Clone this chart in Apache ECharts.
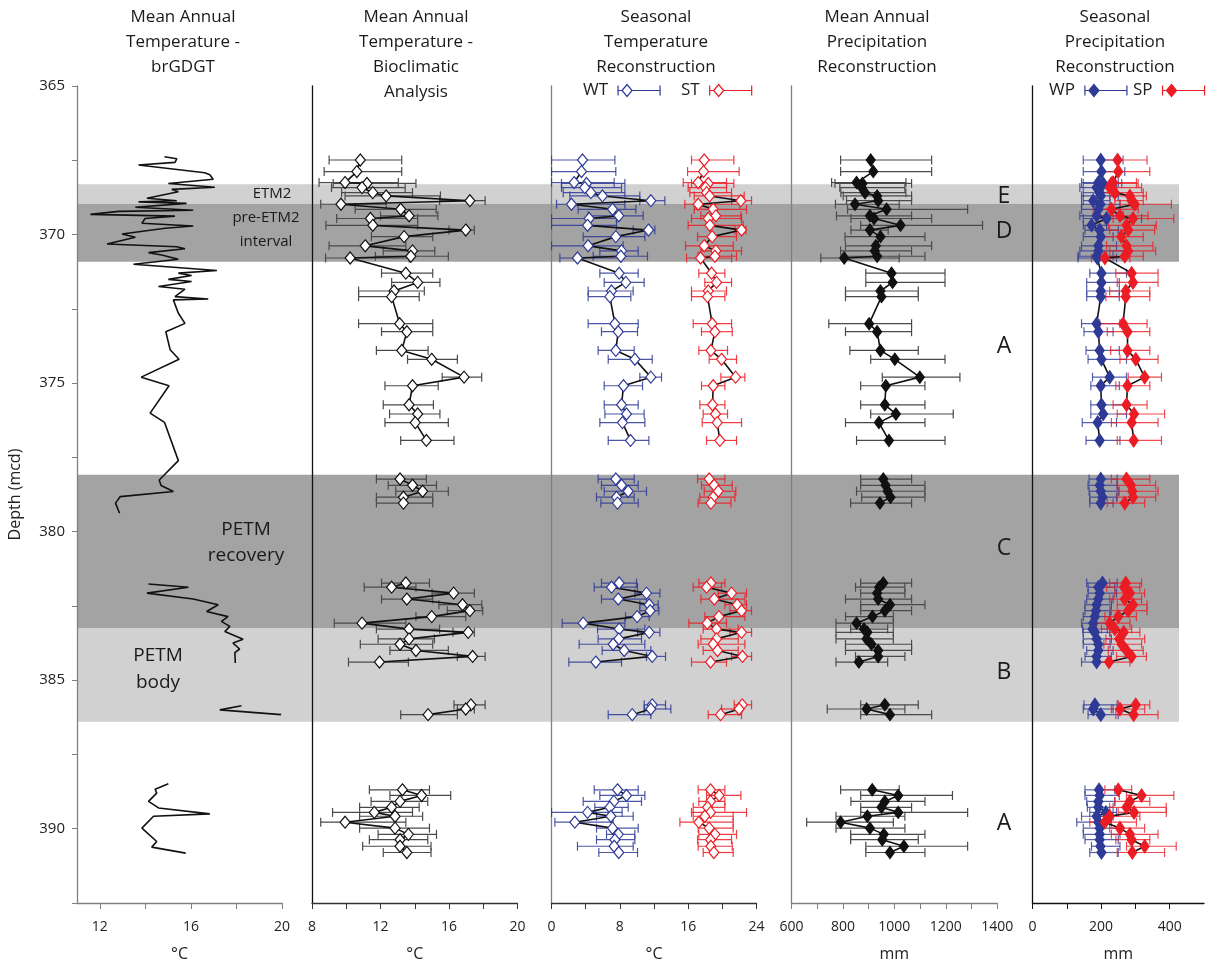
<!DOCTYPE html>
<html><head><meta charset="utf-8">
<script src="https://cdn.jsdelivr.net/npm/echarts@6/dist/echarts.min.js"></script>
<style>html,body{margin:0;padding:0;background:#fff}#c{width:1213px;height:967px}</style>
</head><body><div id="c"></div>
<script>
// ---------------- DATA ----------------
const depthTicks = [365, 367.5, 370, 372.5, 375, 377.5, 380, 382.5, 385, 387.5, 390, 392.5];
const depthLabels = [365, 370, 375, 380, 385, 390];
const ticks1 = [12, 14, 16, 18, 20], labels1 = [12, 16, 20];
const ticks2 = [8, 10, 12, 14, 16, 18, 20], labels2 = [8, 12, 16, 20];
const ticks3 = [0, 4, 8, 12, 16, 20, 24], labels3 = [0, 8, 16, 24];
const ticks4 = [600, 700, 800, 900, 1000, 1100, 1200, 1300, 1400], labels4 = [600, 800, 1000, 1200, 1400];
const ticks5 = [0, 100, 200, 300, 400], labels5 = [0, 200, 400];

// shaded intervals (depth, mcd)
const bandTop = [368.3, 368.95, 378.05, 383.2];
const bandBottom = [368.95, 370.9, 383.2, 386.35];
const bandShade = ['light', 'dark', 'dark', 'light'];

// Panel 1: brGDGT MAT
const brDepth = [367.38,367.45,367.57,367.66,367.92,367.99,368.14,368.28,368.41,368.48,368.56,368.78,368.86,368.90,368.95,369.08,369.18,369.22,369.32,369.38,369.46,369.62,369.71,369.79,369.98,370.09,370.32,370.41,370.48,370.61,370.69,370.83,371.00,371.21,371.30,371.38,371.51,371.58,371.75,371.84,372.09,372.17,372.20,372.65,372.99,373.27,373.88,374.20,374.80,375.09,376.01,376.32,377.61,378.26,378.45,378.65,378.82,379.04,379.38,
381.76,381.87,382.07,382.27,382.46,382.69,382.86,383.02,383.19,383.36,383.62,383.75,383.95,384.07,384.42,
385.86,386.00,386.16,
388.49,388.67,388.80,389.08,389.30,389.50,389.58,389.98,390.43,390.62,390.82];
const brTemp = [14.84,15.38,15.30,13.70,16.61,16.83,16.98,15.01,17.05,15.16,15.45,14.07,15.38,13.70,15.81,13.56,16.10,12.83,11.59,15.30,13.99,13.85,16.10,14.87,12.98,13.56,12.32,15.38,15.74,14.14,14.72,15.45,13.48,17.14,15.45,16.03,15.01,16.03,14.58,15.74,15.30,16.76,15.23,15.45,15.74,14.90,15.09,15.48,13.82,15.04,14.21,14.84,15.45,14.61,14.69,15.23,12.90,12.69,12.87,
14.14,15.89,14.07,16.10,17.20,16.69,17.63,17.34,17.71,17.49,18.29,17.85,18.14,17.93,17.95,
18.22,17.27,19.96,
15.01,14.43,14.50,14.14,14.58,16.83,14.36,13.85,14.50,14.28,15.77];

// Sample depths for panels 2-5
const depth = [367.49,367.88,368.25,368.28,368.42,368.59,368.70,368.86,368.98,369.15,369.37,369.46,369.69,369.85,370.07,370.38,370.55,370.73,370.79,371.30,371.61,371.90,372.09,373.00,373.27,373.90,374.20,374.80,375.09,375.73,376.04,376.33,376.93,
378.23,378.44,378.64,378.84,379.04,
381.73,381.87,382.07,382.27,382.46,382.66,382.86,383.08,383.28,383.39,383.61,383.79,384.00,384.20,384.39,
385.83,385.97,386.16,
388.69,388.88,389.08,389.28,389.45,389.58,389.78,389.98,390.19,390.37,390.59,390.80];

// Panel 2: MAT bioclimatic analysis (°C)
const matBio = [10.82,10.62,9.93,11.21,10.92,11.55,12.33,17.22,9.69,13.18,13.67,11.41,11.55,16.98,13.38,11.11,13.87,13.77,10.23,13.48,14.17,12.79,12.65,13.12,13.54,13.24,14.99,16.88,13.87,13.67,14.17,14.03,14.68,
13.14,13.87,14.46,13.34,13.34,
13.48,12.65,16.27,13.54,16.79,17.22,14.99,10.92,13.67,17.12,13.67,13.14,14.07,17.38,11.94,
17.28,16.98,14.78,
13.28,14.40,13.14,12.65,11.64,12.85,9.93,12.85,13.63,13.14,13.14,13.54];
const matBioLo = [9.00,8.71,8.41,9.24,9.14,9.73,9.93,15.45,8.51,10.52,12.00,9.44,8.81,16.00,11.47,9.00,12.16,11.70,8.79,12.06,12.65,10.72,10.72,10.72,12.06,11.76,13.58,15.60,12.26,12.16,12.53,12.26,13.18,
11.76,12.45,12.89,11.76,11.76,
12.06,11.05,15.01,12.06,15.41,15.90,14.07,9.30,11.76,16.23,11.86,10.82,12.55,16.49,10.13,
16.29,16.49,13.18,
11.35,12.55,11.45,10.78,9.20,10.78,8.51,10.78,11.86,11.35,10.96,12.16];
const matBioHi = [13.24,13.24,13.04,14.07,13.44,13.87,15.50,18.11,12.33,15.25,15.35,14.17,14.17,17.48,15.05,13.48,15.17,15.96,13.67,15.05,15.47,14.56,14.26,15.05,15.05,14.78,16.49,17.91,15.37,15.09,15.47,15.96,16.29,
14.68,15.27,15.96,15.05,15.05,
14.86,14.07,17.48,15.05,17.91,17.97,16.98,13.48,15.45,17.48,15.15,15.05,15.96,18.11,13.63,
18.11,17.48,16.49,
14.86,16.10,14.76,14.26,13.87,14.46,13.48,14.86,15.27,14.76,14.95,14.95];

// Panel 3: seasonal temperature (°C)
const wt = [3.63,3.51,2.65,4.10,3.90,4.61,5.97,11.63,2.34,7.14,7.88,4.41,4.22,11.36,7.53,4.29,8.20,8.12,3.04,7.92,8.70,7.03,6.83,7.42,7.81,7.53,9.76,11.63,8.43,8.20,8.78,8.31,9.25,
7.53,8.20,8.98,7.61,7.73,
7.92,7.03,11.12,7.81,11.44,11.55,10.03,3.71,7.92,11.44,7.88,7.22,8.51,11.79,5.19,
11.79,11.63,9.45,
7.73,8.78,7.30,6.83,4.22,6.95,2.73,7.14,7.81,7.42,7.34,7.88];
const wtLo = [0,0,0,1.17,1.17,1.37,2.15,10.34,0.59,3.12,4.29,0,0,9.56,3.71,0,5.66,4.88,0.98,5.66,6.17,4.29,4.29,4.29,5.85,5.46,6.64,10.34,6.17,6.17,6.25,5.66,6.64,
5.46,5.85,6.17,5.27,5.78,
5.85,5.00,9.76,5.85,10.34,10.34,8.67,1.25,5.39,10.07,5.46,3.24,5.93,11.12,2.03,
10.85,10.85,6.64,
5.00,5.66,3.71,5.07,0,5.27,0.39,5.27,6.44,5.27,3.04,5.54];
const wtHi = [7.42,7.53,7.34,8.59,8.20,8.59,10.34,13.27,8.59,9.88,10.73,7.61,7.61,12.10,10.93,8.39,10.15,11.24,8.20,10.15,10.85,9.56,9.29,10.15,10.07,9.68,11.79,12.88,10.66,10.15,10.85,10.93,11.40,
9.68,10.15,11.12,9.68,10.15,
9.95,10.07,12.69,11.12,12.49,12.57,11.44,8.59,10.93,12.69,10.54,10.93,11.63,13.35,8.20,
13.35,13.97,11.63,
10.15,10.93,10.54,8.98,8.27,9.56,7.22,10.15,9.76,9.76,9.56,10.07];
const st = [17.88,17.80,17.17,18.35,18.03,18.15,18.50,22.17,17.17,18.93,19.24,18.35,18.54,22.25,18.81,17.88,19.24,19.13,17.45,18.74,19.32,18.35,18.27,18.81,19.13,18.66,19.91,21.55,18.93,18.85,19.20,19.40,19.71,
18.46,19.05,19.52,18.93,18.66,
18.66,18.15,21.08,19.05,21.74,22.25,19.59,18.23,19.32,22.25,19.32,18.93,19.44,22.36,18.62,
22.33,21.97,19.79,
18.62,19.63,18.62,18.27,18.62,17.95,17.25,18.46,19.13,18.62,18.66,19.01];
const stLo = [16.39,15.93,15.42,16.39,16.00,16.20,16.71,21.08,15.61,16.71,17.49,16.39,16.00,21.47,17.10,15.69,17.49,17.17,15.81,17.25,17.95,16.39,16.39,16.59,17.56,17.25,18.46,19.83,17.56,17.37,17.76,17.64,18.15,
17.10,17.56,17.88,17.37,17.17,
17.25,16.59,19.52,17.49,20.30,20.88,17.95,16.08,17.76,20.88,17.49,17.17,17.76,21.08,16.39,
21.39,19.91,18.35,
17.17,18.15,17.25,16.59,16.39,16.59,15.03,17.17,17.25,17.10,17.17,17.76];
const stHi = [21.35,21.97,20.49,21.35,20.49,21.08,22.56,23.42,22.05,22.83,22.17,22.25,22.44,22.76,21.66,21.27,22.25,21.66,21.08,20.30,21.08,20.49,20.30,21.08,21.16,20.61,21.66,22.64,20.30,20.30,20.61,22.25,21.66,
20.30,21.16,21.58,21.47,21.00,
20.30,19.91,22.83,22.64,22.83,23.42,22.64,20.49,21.86,23.42,21.86,22.64,21.86,23.42,20.49,
23.42,22.25,22.25,
20.30,22.17,20.30,20.30,22.83,21.27,21.27,21.27,21.66,21.08,21.16,21.27];

// Panel 4: mean annual precipitation (mm)
const map = [908,918,853,876,873,886,933,937,847,970,905,921,1024,905,946,928,924,933,805,
989,993,946,950,902,933,946,1002,1099,967,963,1006,940,979,
957,966,974,985,944,
957,941,933,937,983,963,915,853,882,895,892,911,937,937,862,
963,892,983,
914,1015,963,950,1015,895,791,905,959,953,1037,983];
const mapLo = [791,791,756,769,788,792,801,814,771,818,775,831,869,831,808,810,791,808,714,
889,889,810,810,745,810,827,908,953,869,869,908,810,853,
869,869,853,873,830,
869,849,869,810,869,869,810,773,830,773,773,810,810,849,773,
869,739,869,
791,869,831,869,869,773,659,773,830,830,889,889];
const mapHi = [1145,1145,1045,1067,1041,1045,1067,1067,1019,1285,1067,1145,1343,976,1119,1145,1067,1119,1019,
1197,1197,1093,1093,1067,1067,1093,1197,1255,1119,1119,1229,1119,1197,
1067,1119,1119,1119,1067,
1067,1041,1041,1067,1119,1067,996,996,974,996,996,1067,1067,1041,974,
1093,1041,1145,
1019,1226,1119,1067,1285,1041,996,1041,1119,1093,1285,1119];

// Panel 5: seasonal precipitation (mm)
const wp = [199,201,192,206,187,196,199,177,198,192,187,216,172,196,199,192,192,187,189,
201,201,199,199,187,192,196,201,225,199,201,206,190,196,
199,196,199,204,199,
204,192,196,192,187,185,182,177,175,182,187,192,192,187,187,
182,177,199,
194,196,192,192,214,187,192,196,196,196,198,201];
const wpLo = [148,148,143,148,138,148,143,148,143,143,138,148,148,153,148,143,138,133,133,
167,158,158,158,143,150,156,162,175,170,170,170,145,156,
165,162,165,167,167,
158,162,162,158,153,153,148,143,146,148,148,148,158,153,143,
150,148,162,
153,153,158,160,167,143,129,148,148,153,172,167];
const wpHi = [264,269,250,260,245,235,250,226,255,235,264,318,216,250,235,245,274,235,245,
274,253,253,253,255,235,253,274,274,253,274,274,245,255,
247,247,250,245,235,
247,240,245,235,230,226,226,221,218,226,230,226,235,230,226,
247,235,250,
240,253,240,235,245,235,230,250,255,250,255,250];
const sp = [248,250,235,230,225,240,284,289,298,230,255,293,274,279,259,274,279,269,211,
289,293,272,272,264,277,277,301,327,277,274,296,289,295,
274,287,291,293,269,
272,267,284,269,293,279,250,225,240,266,253,260,274,289,223,
301,255,295,
250,318,284,274,296,225,211,255,284,289,327,291];
const spLo = [201,201,192,187,182,192,225,240,255,177,192,235,221,225,201,216,225,216,172,
243,247,225,214,196,218,228,255,279,243,235,247,230,247,
230,247,253,247,218,
225,216,240,225,247,230,211,187,201,225,214,208,221,245,187,
250,230,243,
211,274,240,225,250,187,167,225,230,243,274,247];
const spHi = [334,342,303,308,318,323,332,323,405,308,337,412,361,356,323,351,359,323,284,
366,366,342,342,334,342,342,366,376,342,334,385,366,376,
342,359,366,359,327,
318,313,327,318,334,334,303,284,289,313,327,318,323,332,284,
342,327,366,
289,412,342,390,390,313,303,327,366,342,419,385];

// ---------------- STYLE ----------------
const FONT = 'Open Sans';
const BLUE = '#2e3a96';
const RED = '#ec1c24';
const SHADE = { light: '#d1d1d1', dark: '#a3a3a3' };
const Y_MIN = 365, Y_MAX = 392.5;

function lineData(xs, ds, gap) {
  const out = [];
  for (let i = 0; i < xs.length; i++) {
    if (i > 0 && ds[i] - ds[i - 1] > gap) out.push(['-', '-']);
    out.push([xs[i], ds[i]]);
  }
  return out;
}
function errSeries(lo, hi, ds, ai, color, opacity) {
  return {
    type: 'custom', xAxisIndex: ai, yAxisIndex: ai, z: 3, silent: true, clip: true,
    data: ds.map((d, i) => [lo[i], hi[i], d]),
    encode: { x: [0, 1], y: 2 },
    renderItem(params, api) {
      const d = api.value(2);
      const a = api.coord([api.value(0), d]);
      const b = api.coord([api.value(1), d]);
      const h = 4.5;
      const st = { stroke: color, lineWidth: 1.2, opacity: opacity };
      return { type: 'group', children: [
        { type: 'line', shape: { x1: a[0], y1: a[1], x2: b[0], y2: b[1] }, style: st },
        { type: 'line', shape: { x1: a[0], y1: a[1] - h, x2: a[0], y2: a[1] + h }, style: st },
        { type: 'line', shape: { x1: b[0], y1: b[1] - h, x2: b[0], y2: b[1] + h }, style: st }
      ]};
    }
  };
}
function markerLine(name, xs, ai, fill, border, size) {
  return {
    name: name, type: 'line', xAxisIndex: ai, yAxisIndex: ai, z: 5,
    data: lineData(xs, depth, 1.2), connectNulls: false,
    symbol: 'diamond', symbolSize: size, showAllSymbol: true,
    lineStyle: { color: '#111', width: 1.6 },
    itemStyle: { color: fill, borderColor: border, borderWidth: 1.2 },
    emphasis: { disabled: true }
  };
}

const gridPos = [
  { left: 77, width: 1102 },
  { left: 77, width: 205 },
  { left: 312, width: 205.5 },
  { left: 551.5, width: 205 },
  { left: 791.5, width: 205.7 },
  { left: 1032.5, width: 171.5 }
];
const grid = gridPos.map(g => ({ left: g.left, width: g.width, top: 86, height: 819, containLabel: false }));

const yLineColors = [null, '#808080', '#111', '#808080', '#808080', '#111'];
const yAxis = grid.map((g, i) => {
  const ax = {
    type: 'value', gridIndex: i, inverse: true, min: Y_MIN, max: Y_MAX,
    splitLine: { show: false },
    axisLine: { show: i > 0, onZero: false, lineStyle: { color: yLineColors[i] || '#000', width: 1.3 } },
    axisTick: { show: false }, axisLabel: { show: false }
  };
  if (i === 0) ax.show = false;
  if (i === 1) {
    ax.axisTick = { show: true, customValues: depthTicks, length: 5, lineStyle: { color: '#808080' } };
    ax.axisLabel = { show: true, customValues: depthLabels, fontSize: 15, color: '#222', fontFamily: FONT, margin: 12,
      formatter: v => String(v) };
    ax.name = 'Depth (mcd)';
    ax.nameLocation = 'middle';
    ax.nameGap = 54;
    ax.nameTextStyle = { fontSize: 16, color: '#222', fontFamily: FONT };
  }
  return ax;
});

const xCfg = [
  null,
  { min: 11, max: 20, ticks: ticks1, labels: labels1, unit: '°C', color: '#808080' },
  { min: 8, max: 20, ticks: ticks2, labels: labels2, unit: '°C', color: '#333' },
  { min: 0, max: 24, ticks: ticks3, labels: labels3, unit: '°C', color: '#333' },
  { min: 600, max: 1400, ticks: ticks4, labels: labels4, unit: 'mm', color: '#808080' },
  { min: 0, max: 500, ticks: ticks5, labels: labels5, unit: 'mm', color: '#111' }
];
const xAxis = grid.map((g, i) => {
  if (i === 0) return { type: 'value', gridIndex: 0, min: 0, max: 1, show: false };
  const c = xCfg[i];
  return {
    type: 'value', gridIndex: i, min: c.min, max: c.max, position: 'bottom',
    splitLine: { show: false },
    axisLine: { show: true, onZero: false, lineStyle: { color: c.color, width: 1.3 } },
    axisTick: { show: true, customValues: c.ticks, length: 6, lineStyle: { color: c.color } },
    axisLabel: { show: true, customValues: c.labels, fontSize: 14, color: '#222', fontFamily: FONT, margin: 17,
      formatter: v => String(v) },
    name: c.unit, nameLocation: 'middle', nameGap: 43,
    nameTextStyle: { fontSize: 16, color: '#222', fontFamily: FONT }
  };
});

const series = [
  {
    type: 'custom', xAxisIndex: 0, yAxisIndex: 0, z: -5, silent: true,
    data: bandTop.map((t, i) => [0, 1, t, bandBottom[i], i]),
    encode: { x: [0, 1], y: [2, 3] },
    renderItem(params, api) {
      const p1 = api.coord([api.value(0), api.value(2)]);
      const p2 = api.coord([api.value(1), api.value(3)]);
      return { type: 'rect', shape: { x: p1[0], y: p1[1], width: p2[0] - p1[0], height: p2[1] - p1[1] },
        style: { fill: SHADE[bandShade[api.value(4)]] } };
    }
  },
  {
    name: 'brGDGT', type: 'line', xAxisIndex: 1, yAxisIndex: 1, z: 5,
    data: lineData(brTemp, brDepth, 1.4), connectNulls: false, symbol: 'none',
    lineStyle: { color: '#111', width: 1.6 }
  },
  errSeries(matBioLo, matBioHi, depth, 2, '#4a4a4a', 1),
  markerLine('MAT', matBio, 2, '#fff', '#111', [10, 12]),
  errSeries(wtLo, wtHi, depth, 3, BLUE, 0.85),
  errSeries(stLo, stHi, depth, 3, RED, 0.85),
  markerLine('WT', wt, 3, '#fff', BLUE, [10, 12]),
  markerLine('ST', st, 3, '#fff', RED, [10, 12]),
  errSeries(mapLo, mapHi, depth, 4, '#4a4a4a', 1),
  markerLine('MAP', map, 4, '#111', '#111', [9, 12]),
  errSeries(wpLo, wpHi, depth, 5, BLUE, 0.8),
  errSeries(spLo, spHi, depth, 5, RED, 0.8),
  markerLine('WP', wp, 5, BLUE, BLUE, [9, 13]),
  markerLine('SP', sp, 5, RED, RED, [9, 13])
];

const openIcon = 'path://M1,1L1,11M1,6L5,6M5,6L10,0L15,6L10,12ZM15,6L43,6M43,1L43,11';
function legendItem(name, left, fill, color) {
  return {
    left: left, top: 77, orient: 'horizontal', align: 'right', selectedMode: false,
    itemWidth: 44, itemHeight: 12,
    textStyle: { fontSize: 17, color: '#222', fontFamily: FONT, padding: [0, 4, 0, 0] },
    data: [{ name: name, icon: openIcon, itemStyle: { color: fill, borderColor: color, borderWidth: 1.2 } }]
  };
}
const legend = [
  legendItem('WT', 578, '#fff', BLUE),
  legendItem('ST', 676, '#fff', RED),
  legendItem('WP', 1044, BLUE, BLUE),
  legendItem('SP', 1128, RED, RED)
];

function txt(text, x, y, size, va) {
  return { type: 'text', x: x, y: y, z: 100, silent: true,
    style: { text: text, fontSize: size, fontFamily: FONT, fill: '#1a1a1a',
      align: 'center', verticalAlign: va || 'middle', textAlign: 'center', textVerticalAlign: va || 'middle', lineHeight: 25 } };
}
const graphic = [
  txt('Mean Annual\nTemperature -\nbrGDGT', 183, 5, 17, 'top'),
  txt('Mean Annual\nTemperature -\nBioclimatic\nAnalysis', 416, 5, 17, 'top'),
  txt('Seasonal\nTemperature\nReconstruction', 656, 5, 17, 'top'),
  txt('Mean Annual\nPrecipitation\nReconstruction', 877, 5, 17, 'top'),
  txt('Seasonal\nPrecipitation\nReconstruction', 1115, 5, 17, 'top'),
  txt('ETM2', 272, 194, 15),
  txt('pre-ETM2', 266, 218, 15),
  txt('interval', 266, 242, 15),
  txt('PETM', 246, 530, 19),
  txt('recovery', 246, 556, 19),
  txt('PETM', 158, 656, 19),
  txt('body', 158, 683, 19),
  txt('E', 1004, 196, 23),
  txt('D', 1004, 231, 23),
  txt('A', 1004, 346, 23),
  txt('C', 1004, 548, 23),
  txt('B', 1004, 672, 23),
  txt('A', 1004, 823, 23)
];

const chart = echarts.init(document.getElementById('c'), null, { renderer: 'canvas' });
chart.setOption({
  animation: false,
  backgroundColor: '#fff',
  textStyle: { fontFamily: FONT },
  grid: grid, xAxis: xAxis, yAxis: yAxis,
  legend: legend, series: series, graphic: graphic
});
</script></body></html>
